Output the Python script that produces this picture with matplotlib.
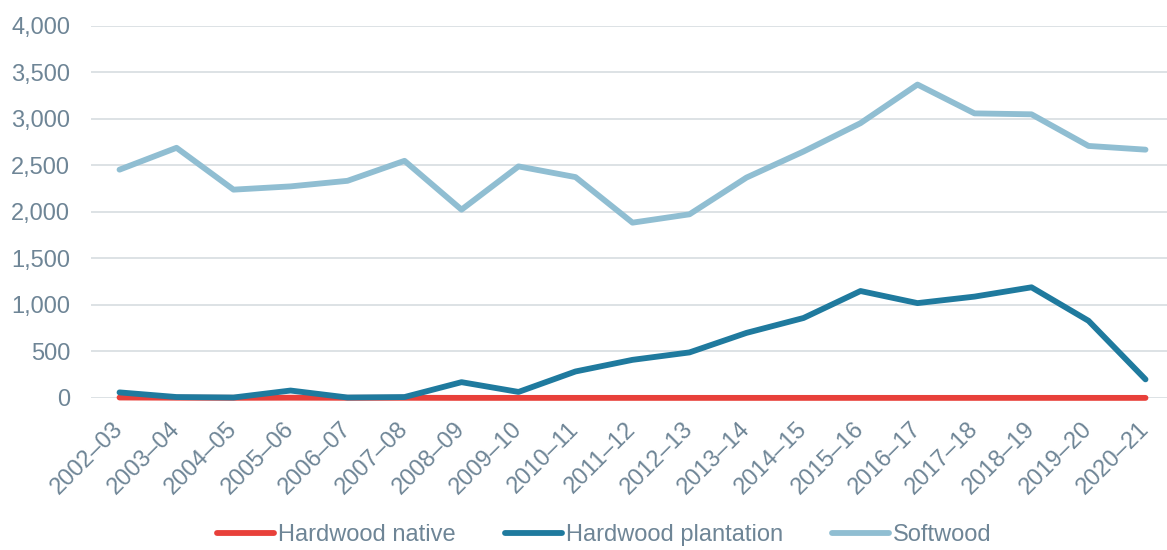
import matplotlib
matplotlib.use("Agg")
import matplotlib.pyplot as plt
from matplotlib.ticker import FuncFormatter

# Data
years = ['2002–03', '2003–04', '2004–05', '2005–06', '2006–07', '2007–08',
         '2008–09', '2009–10', '2010–11', '2011–12', '2012–13', '2013–14',
         '2014–15', '2015–16', '2016–17', '2017–18', '2018–19', '2019–20',
         '2020–21']
hardwood_native = [5, 3, 2, 3, 2, 2, 1, 1, 1, 1, 1, 1, 1, 1, 1, 1, 1, 1, 1]
hardwood_plantation = [60, 10, 5, 80, 5, 10, 170, 65, 285, 410, 490, 700,
                       860, 1150, 1020, 1090, 1190, 830, 200]
softwood = [2455, 2690, 2240, 2275, 2335, 2550, 2025, 2490, 2375, 1885, 1975,
            2370, 2650, 2955, 3370, 3060, 3050, 2710, 2670]

TEXT = '#6e8596'
GRID = '#dadfe3'

plt.rcParams['font.family'] = ['Liberation Sans', 'DejaVu Sans']

fig = plt.figure(figsize=(11.67, 5.5), dpi=100)
ax = fig.add_axes([0.078, 0.2764, 0.928, 0.6764])

x = range(len(years))
ax.plot(x, hardwood_native, color='#e8403a', lw=4.2, solid_capstyle='round',
        clip_on=False, label='Hardwood native')
ax.plot(x, hardwood_plantation, color='#1f7a9e', lw=4.2, solid_capstyle='round',
        clip_on=False, label='Hardwood plantation')
ax.plot(x, softwood, color='#90bed2', lw=4.2, solid_capstyle='round',
        clip_on=False, label='Softwood')

ax.set_xlim(-0.5, len(years) - 0.5)
ax.set_ylim(0, 4000)
ax.set_yticks(range(0, 4001, 500))
ax.yaxis.set_major_formatter(FuncFormatter(lambda v, p: f'{int(v):,}'))
ax.grid(axis='y', color=GRID, lw=1.3)
ax.set_axisbelow(True)
for s in ax.spines.values():
    s.set_visible(False)
ax.tick_params(axis='both', length=0, colors=TEXT, labelsize=17)
ax.tick_params(axis='y', pad=15)
ax.tick_params(axis='x', pad=20)
ax.set_xticks(list(x))
ax.set_xticklabels(years, rotation=45, ha='right', va='center', rotation_mode='anchor')

leg = fig.legend(loc='center', bbox_to_anchor=(0.518, 0.027), ncol=3, frameon=False,
                 fontsize=17, handlelength=2.4, handletextpad=0.17, columnspacing=2.1)
for t in leg.get_texts():
    t.set_color(TEXT)

fig.savefig('out.png', dpi=100)
